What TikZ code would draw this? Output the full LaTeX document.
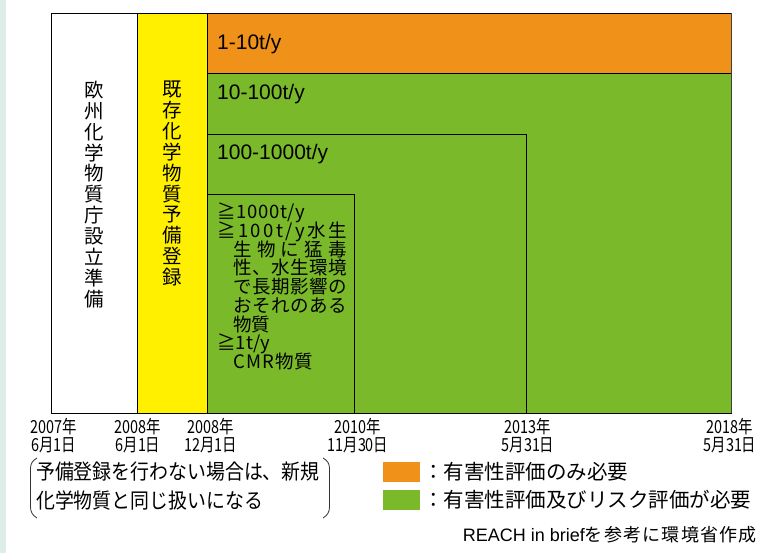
\documentclass[tikz,border=0pt]{standalone}
\usepackage{fontspec}
\setmainfont{Liberation Sans}
\newfontfamily\jp{Noto Sans CJK JP}
\newfontfamily\jpn[FakeStretch=0.8]{Noto Sans CJK JP}
\newfontfamily\jpm[FakeStretch=0.9]{Noto Sans CJK JP}
\definecolor{orng}{RGB}{240,146,26}
\definecolor{grn}{RGB}{122,185,41}
\definecolor{ylw}{RGB}{255,240,0}
\definecolor{stripc}{RGB}{221,238,232}
\tikzset{
  frame/.style={draw=black, line width=0.9pt},
  rangelbl/.style={anchor=base west, inner sep=0pt, font=\fontsize{21}{24}\selectfont},
  listlbl/.style={anchor=base west, inner sep=0pt, font=\jp\fontsize{18.5}{20}\selectfont},
  vstack/.style={anchor=north, inner sep=0pt, align=center, font=\jp\fontsize{19.5}{20.85}\selectfont},
  datelbl/.style={anchor=north, inner sep=0pt, align=center, font=\jpn\fontsize{18}{18}\selectfont},
  notelbl/.style={anchor=base west, inner sep=0pt, font=\jpm\fontsize{21}{24}\selectfont},
  legendlbl/.style={anchor=base west, inner sep=0pt, font=\jp\fontsize{20.5}{24}\selectfont},
  swatch/.style={draw=none, inner sep=0pt, minimum width=37pt, minimum height=20pt, anchor=north west},
}
\begin{document}
\begin{tikzpicture}[x=1pt,y=-1pt]
\useasboundingbox (0,0) rectangle (769,553);
\fill[stripc] (0,0) rectangle (6,553);
% columns and bands
\fill[white] (51,13) rectangle (137,413);
\fill[ylw] (137,13) rectangle (207,413);
\fill[orng] (207,13) rectangle (731,73);
\fill[grn] (207,73) rectangle (731,413);
\draw[frame] (207,134) -| (526,413);
\draw[frame] (207,194) -| (354,413);
\draw[frame] (137,13) -- (137,413);
\draw[frame] (207,13) -- (207,413);
\draw[frame] (207,73) -- (731,73);
\draw[frame] (51,13) rectangle (731,413);
\draw[line width=1.2pt, black!75] (731.6,13) -- (731.6,413);
% range labels
\node[rangelbl] (r1) at (217,50) {1-10t/y};
\node[rangelbl] (r2) at (217,100) {10-100t/y};
\node[rangelbl] (r3) at (217,160) {100-1000t/y};
% list
\node[listlbl] (s1) at (217,218.7) {\makebox[88pt][s]{≧\hfill 1\hfill 0\hfill 0\hfill 0\hfill t\hfill /\hfill y}};
\node[listlbl] (s2) at (217,237.5) {\makebox[130pt][s]{≧\hfill 1\hfill 0\hfill 0\hfill t\hfill /\hfill y\hfill 水\hfill 生}};
\node[listlbl] (s3) at (233,256.2) {\makebox[114pt][s]{生\hfill 物\hfill に\hfill 猛\hfill 毒}};
\node[listlbl] (s4) at (233,275) {\makebox[114pt][s]{性\hfill 、\hfill 水\hfill 生\hfill 環\hfill 境}};
\node[listlbl] (s5) at (233,293.7) {\makebox[114pt][s]{で\hfill 長\hfill 期\hfill 影\hfill 響\hfill の}};
\node[listlbl] (s6) at (233,312.5) {\makebox[114pt][s]{お\hfill そ\hfill れ\hfill の\hfill あ\hfill る}};
\node[listlbl] (s7) at (233,331.2) {物質};
\node[listlbl] (s8) at (217,350) {\makebox[53pt][s]{≧\hfill 1\hfill t\hfill /\hfill y}};
\node[listlbl] (s9) at (233,368.7) {\makebox[80pt][s]{C\hfill M\hfill R\hfill 物\hfill 質}};
% vertical texts
\node[vstack] (v1) at (94,81) {欧\\州\\化\\学\\物\\質\\庁\\設\\立\\準\\備};
\node[vstack] (v2) at (172,81) {既\\存\\化\\学\\物\\質\\予\\備\\登\\録};
% dates
\node[datelbl] (d1) at (54,418) {2007年\\6月1日};
\node[datelbl] (d2) at (138,418) {2008年\\6月1日};
\node[datelbl] (d3) at (211,418) {2008年\\12月1日};
\node[datelbl] (d4) at (358,418) {2010年\\11月30日};
\node[datelbl] (d5) at (528,418) {2013年\\5月31日};
\node[datelbl] (d6) at (730,418) {2018年\\5月31日};
% note in brackets
\node[notelbl] (n1) at (36,479) {予備登録を行わない場合は、新規};
\node[notelbl] (n2) at (36,508) {化学物質と同じ扱いになる};
\draw[line width=0.8pt, black!80] (37,458) to[out=210,in=90] (30.5,468) -- (30.5,507) to[out=-90,in=150] (37,518);
\draw[line width=0.8pt, black!80] (323,458) to[out=-30,in=90] (329.5,468) -- (329.5,507) to[out=-90,in=30] (323,518);
% legend
\node[swatch, fill=orng] (k1) at (383,462) {};
\node[swatch, fill=grn] (k2) at (383,490) {};
\node[legendlbl] (t1) at (423,479) {：有害性評価のみ必要};
\node[legendlbl] (t2) at (423,507) {：有害性評価及びリスク評価が必要};
\node[anchor=base east, inner sep=0pt, font=\fontsize{18}{20}\selectfont] (src) at (757,541)
  {REACH in brief{\jp\makebox[172pt][s]{を\hfill 参\hfill 考\hfill に\hfill 環\hfill 境\hfill 省\hfill 作\hfill 成}}};
\end{tikzpicture}
\end{document}
